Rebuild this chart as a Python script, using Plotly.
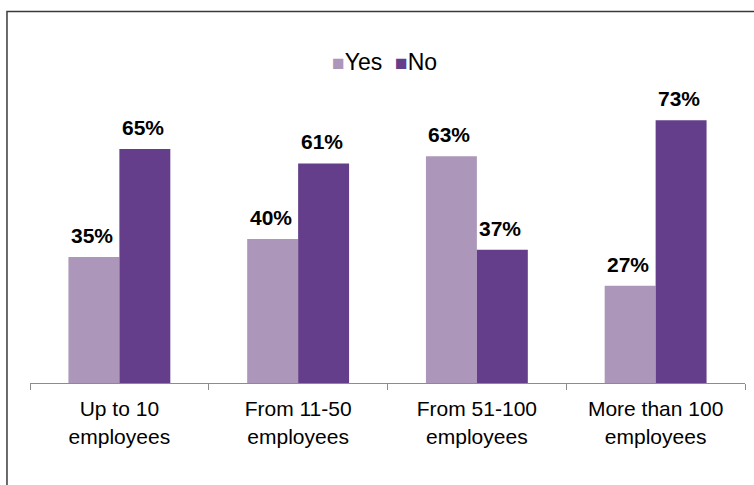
import plotly.graph_objects as go

# Company size groups and share of answers per group (%)
categories = ["Up to 10<br>employees", "From 11-50<br>employees",
              "From 51-100<br>employees", "More than 100<br>employees"]
yes_values = [35, 40, 63, 27]
no_values = [65, 61, 37, 73]
series_names = ["Yes", "No"]

FONT = "Arial, 'Liberation Sans', sans-serif"
COLORS = {"Yes": "#AC97BA", "No": "#643E8A"}

PLOT_W = 754 - 30 - 9
BARGAP = 0.43
bar_px = PLOT_W / len(categories) * (1 - BARGAP) / 2

fig = go.Figure()
annotations = []
for i, (name, vals) in enumerate(zip(series_names, [yes_values, no_values])):
    fig.add_trace(go.Bar(
        name=name,
        x=categories,
        y=vals,
        marker=dict(color=COLORS[name], line=dict(width=0)),
        showlegend=False,
    ))
    # value labels above each bar
    offset = (i - 0.5) * bar_px
    for cat, v in zip(categories, vals):
        annotations.append(dict(
            x=cat, y=v, xref="x", yref="y",
            text=f"<b>{v}%</b>", showarrow=False,
            xanchor="center", yanchor="bottom",
            xshift=offset - 2, yshift=8,
            font=dict(family=FONT, size=21, color="#000000"),
        ))

# legend row: coloured squares followed by series names
legend_text = "&nbsp;&nbsp;".join(
    f"<span style='color:{COLORS[n]}; font-size:21px'>■</span>{n}" for n in series_names
)
annotations.append(dict(
    x=0.4958, y=1.1146, xref="paper", yref="paper",
    text=legend_text, showarrow=False,
    xanchor="center", yanchor="middle",
    font=dict(family=FONT, size=23, color="#000000"),
))

fig.update_layout(
    width=754,
    height=485,
    margin=dict(l=30, r=9, t=95, b=102),
    paper_bgcolor="white",
    plot_bgcolor="white",
    barmode="group",
    bargap=BARGAP,
    bargroupgap=0,
    font=dict(family=FONT, size=21, color="#000000"),
    showlegend=False,
    annotations=annotations,
    xaxis=dict(
        range=[-0.5, 3.5],
        showline=True,
        linecolor="#8C8C8C",
        linewidth=1.3,
        ticks="outside",
        tickson="boundaries",
        ticklen=6,
        tickcolor="#8C8C8C",
        tickwidth=1.3,
        ticklabelstandoff=7,
        showgrid=False,
        tickfont=dict(family=FONT, size=21, color="#000000"),
        fixedrange=True,
    ),
    yaxis=dict(
        range=[0, 80],
        visible=False,
        showgrid=False,
        zeroline=False,
        fixedrange=True,
    ),
    shapes=[dict(
        type="rect", xref="paper", yref="paper",
        x0=-0.0322, x1=1.2, y0=-1.0, y1=1.29,
        line=dict(color="#3A3A3A", width=1.5),
        fillcolor="rgba(0,0,0,0)",
        layer="above",
    )],
)

fig.write_html("out.html")
